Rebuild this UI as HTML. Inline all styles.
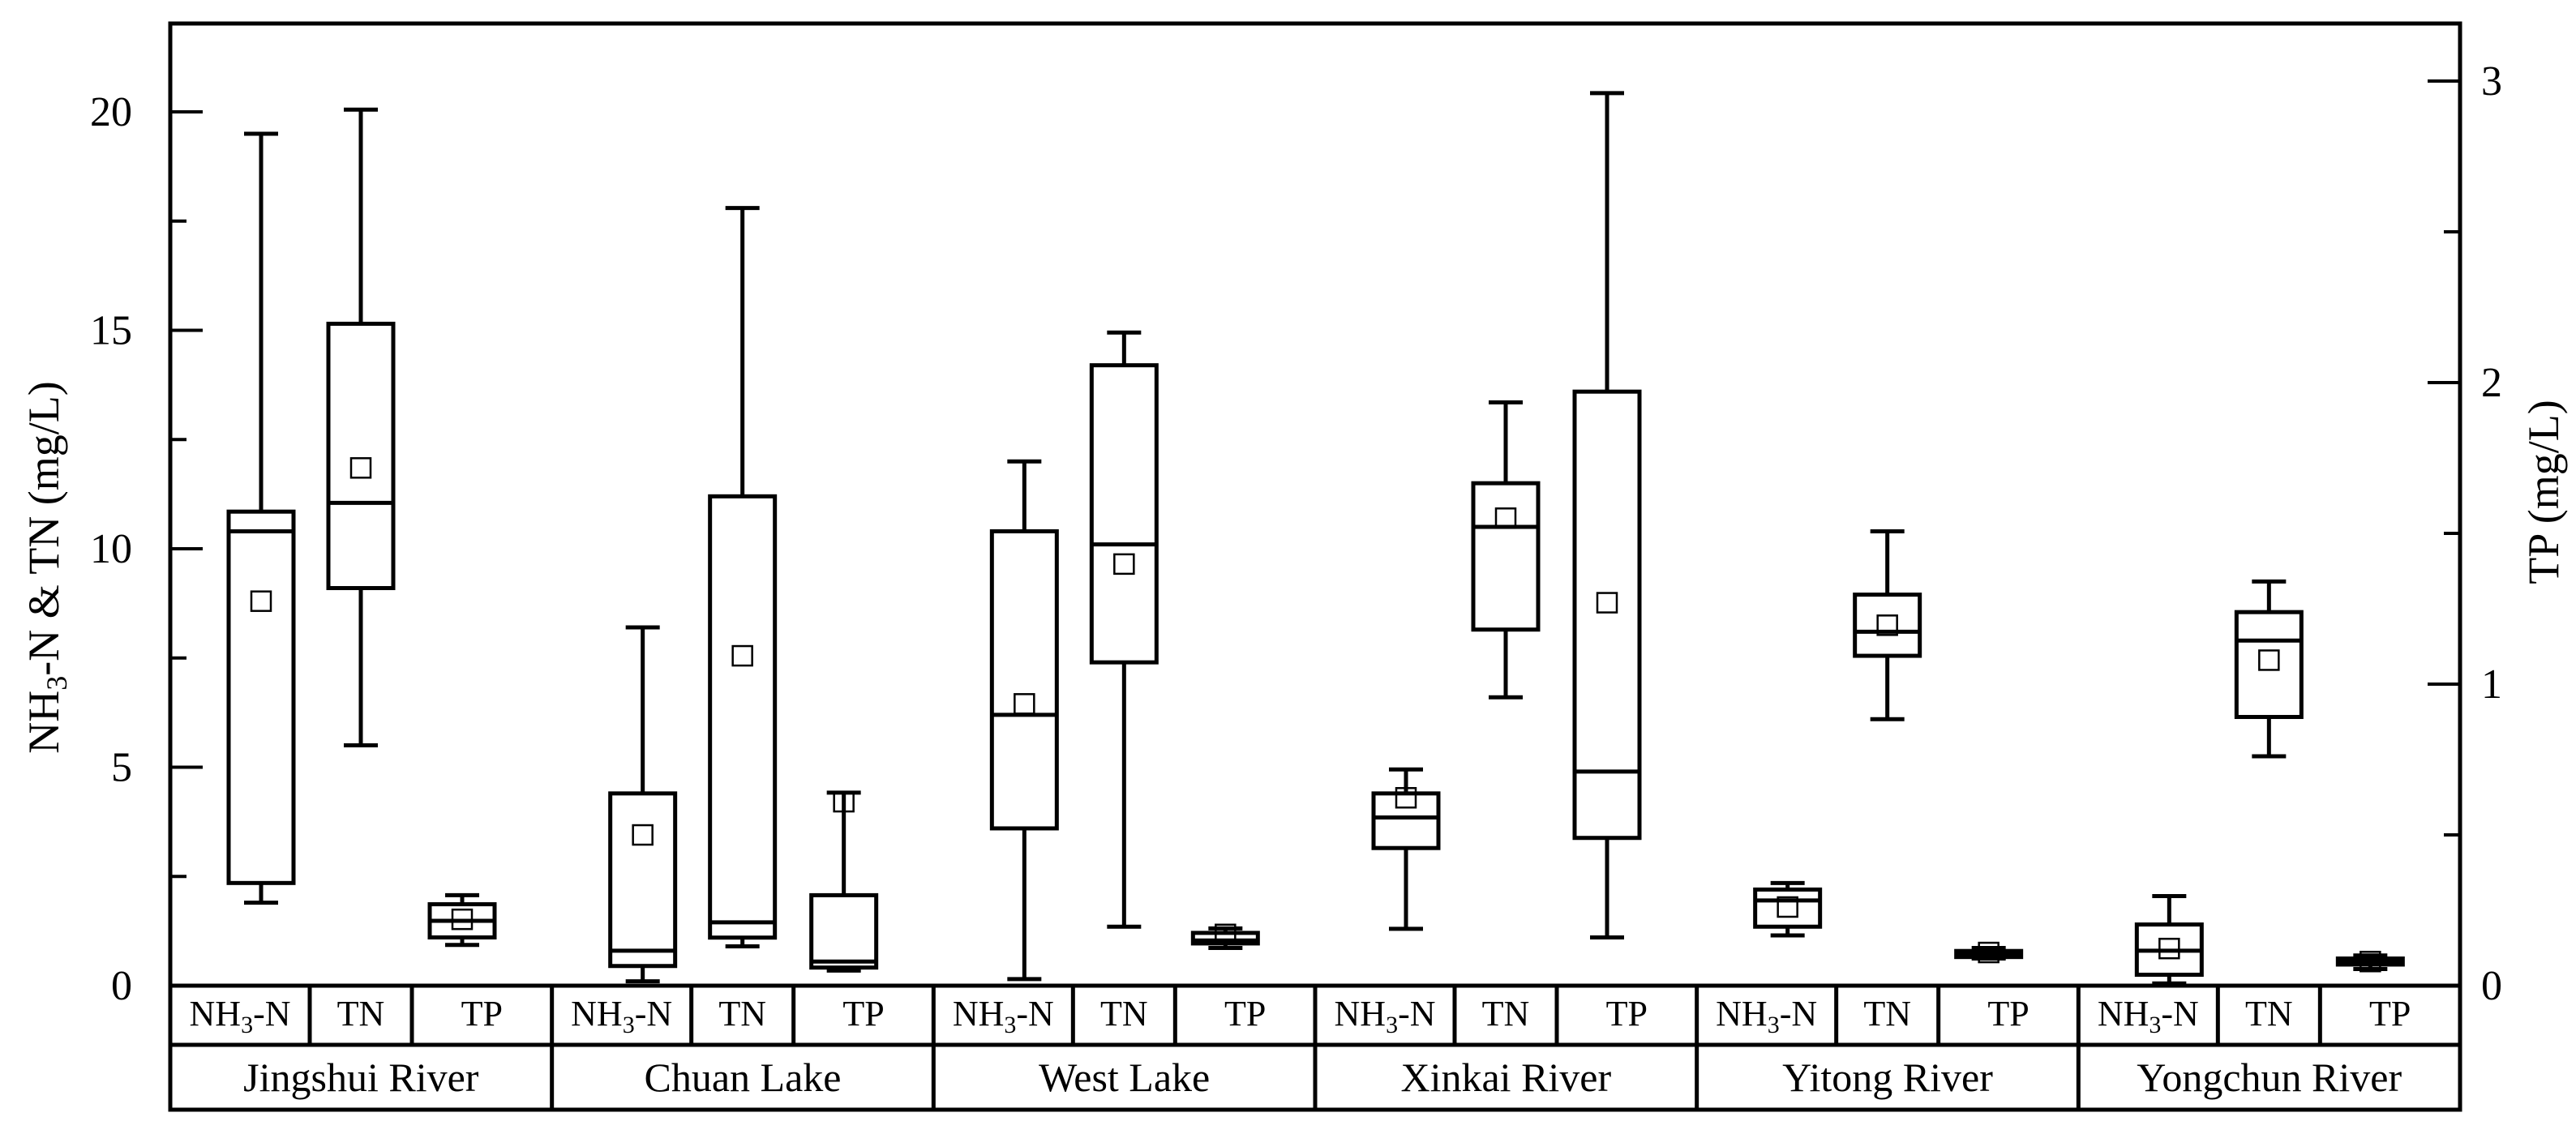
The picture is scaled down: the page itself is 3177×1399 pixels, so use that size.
<!DOCTYPE html>
<html><head><meta charset="utf-8"><style>
html,body{margin:0;padding:0;background:#fff;}
svg{display:block;font-family:"Liberation Serif",serif;}
</style></head><body>
<svg id="chart" width="3177" height="1399" viewBox="0 0 3177 1399" xmlns="http://www.w3.org/2000/svg">
<g id="marks"></g>
</svg>
<script>
const groups = ["Jingshui River","Chuan Lake","West Lake","Xinkai River","Yitong River","Yongchun River"];
const series = ["NH3-N","TN","TP"];
const leftTicks = [0,5,10,15,20];
const rightTicks = [0,1,2,3];
// [whiskerLow, Q1, median, Q3, whiskerHigh, mean] per group
const nh3Stats = [
  [1.9,2.35,10.4,10.85,19.5,8.8],
  [0.1,0.45,0.8,4.4,8.2,3.45],
  [0.15,3.6,6.2,10.4,12.0,6.45],
  [1.3,3.15,3.85,4.4,4.95,4.3],
  [1.15,1.35,1.95,2.2,2.35,1.8],
  [0.05,0.25,0.8,1.4,2.05,0.85]
];
const tnStats = [
  [5.5,9.1,11.05,15.15,20.05,11.85],
  [0.9,1.1,1.45,11.2,17.8,7.55],
  [1.35,7.4,10.1,14.2,14.95,9.65],
  [6.6,8.15,10.5,11.5,13.35,10.7],
  [6.1,7.55,8.1,8.95,10.4,8.25],
  [5.25,6.15,7.9,8.55,9.25,7.45]
];
const tpStats = [
  [0.135,0.16,0.215,0.27,0.30,0.22],
  [0.05,0.06,0.08,0.30,0.64,0.61],
  [0.125,0.14,0.15,0.175,0.19,0.17],
  [0.16,0.49,0.71,1.97,2.96,1.27],
  [0.09,0.095,0.105,0.115,0.125,0.11],
  [0.055,0.07,0.08,0.09,0.10,0.08]
];

const NS="http://www.w3.org/2000/svg";
const svg=document.getElementById('marks');
const X0=210, X1=3034, Y0=1216, YTOP=29, ROW1=1289, ROW2=1369;
const yL=v=>Y0-v*53.9;
const yR=v=>Y0-v*372;
const gW=(X1-X0)/groups.length;
const boxOff=[112,235,360];
const colEdges=[0,172,298,gW];
function el(tag,attrs,parent){const e=document.createElementNS(NS,tag);for(const k in attrs)e.setAttribute(k,attrs[k]);(parent||svg).appendChild(e);return e;}
function line(x1,y1,x2,y2,w){return el('line',{x1,y1,x2,y2,stroke:'#000','stroke-width':w});}
function text(x,y,s,size,anchor){const t=el('text',{x,y,'font-size':size,'text-anchor':anchor||'middle',fill:'#000'});t.textContent=s;return t;}

// frame
let f=el('rect',{x:X0,y:YTOP,width:X1-X0,height:ROW2-YTOP,fill:'none',stroke:'#000','stroke-width':5});


let r1=line(X0,Y0,X1,Y0,5);


let r2=line(X0,ROW1,X1,ROW1,5);



// left ticks
for(let v=0;v<=22;v+=2.5){const major=v%5===0;const t=line(X0,yL(v),X0+(major?40:20),yL(v),4);

}
leftTicks.forEach(v=>{const t=text(163,yL(v)+17,String(v),52,'end');

});
// right ticks
for(let v=0;v<=3.1;v+=0.5){const major=Math.abs(v-Math.round(v))<1e-6;const t=line(X1,yR(v),X1-(major?40:20),yR(v),4);

}
rightTicks.forEach(v=>{const t=text(3060,yR(v)+17,String(v),52,'start');

});

// axis titles
let lt=el('text',{x:0,y:0,'font-size':54,'text-anchor':'middle',transform:'translate(72,700) rotate(-90)'});


lt.innerHTML='NH<tspan font-size="36" dy="10">3</tspan><tspan dy="-10">-N &amp; TN (mg/L)</tspan>';
let rt=el('text',{x:0,y:0,'font-size':54,'text-anchor':'middle',transform:'translate(3155,607) rotate(-90)'});


rt.textContent='TP (mg/L)';

function drawBox(cx,s,scale,name){
  const g=el('g',{});
  
  
  const [lo,q1,med,q3,hi,mean]=s;
  const bw=80,cw=42;
  el('line',{x1:cx,y1:scale(hi),x2:cx,y2:scale(q3),stroke:'#000','stroke-width':5},g);
  el('line',{x1:cx,y1:scale(q1),x2:cx,y2:scale(lo),stroke:'#000','stroke-width':5},g);
  el('line',{x1:cx-cw/2,y1:scale(hi),x2:cx+cw/2,y2:scale(hi),stroke:'#000','stroke-width':5},g);
  el('line',{x1:cx-cw/2,y1:scale(lo),x2:cx+cw/2,y2:scale(lo),stroke:'#000','stroke-width':5},g);
  el('rect',{x:cx-bw/2,y:scale(q3),width:bw,height:Math.max(1,scale(q1)-scale(q3)),fill:'none',stroke:'#000','stroke-width':5},g);
  el('line',{x1:cx-bw/2,y1:scale(med),x2:cx+bw/2,y2:scale(med),stroke:'#000','stroke-width':5},g);
  el('rect',{x:cx-12,y:scale(mean)-12,width:24,height:24,fill:'none',stroke:'#000','stroke-width':2.5},g);
}

groups.forEach((gname,i)=>{
  const gx=X0+i*gW;
  drawBox(gx+boxOff[0],nh3Stats[i],yL,'box-nh3-'+i);
  drawBox(gx+boxOff[1],tnStats[i],yL,'box-tn-'+i);
  drawBox(gx+boxOff[2],tpStats[i],yR,'box-tp-'+i);
  if(i>0){const d=line(gx,Y0,gx,ROW2,5);
    
    }
  for(let c=1;c<3;c++){const d=line(gx+colEdges[c],Y0,gx+colEdges[c],ROW1,5);
    
    }
  series.forEach((s,c)=>{
    const cx=gx+(colEdges[c]+colEdges[c+1])/2;
    const t=el('text',{x:cx,y:1265,'font-size':44,'text-anchor':'middle'});
    
    
    if(s==='NH3-N'){t.innerHTML='NH<tspan font-size="30" dy="9">3</tspan><tspan dy="-9">-N</tspan>';}
    else t.textContent=s;
  });
  const gt=text(gx+gW/2,1346,gname,50);
  
  
});
</script>
</body></html>
